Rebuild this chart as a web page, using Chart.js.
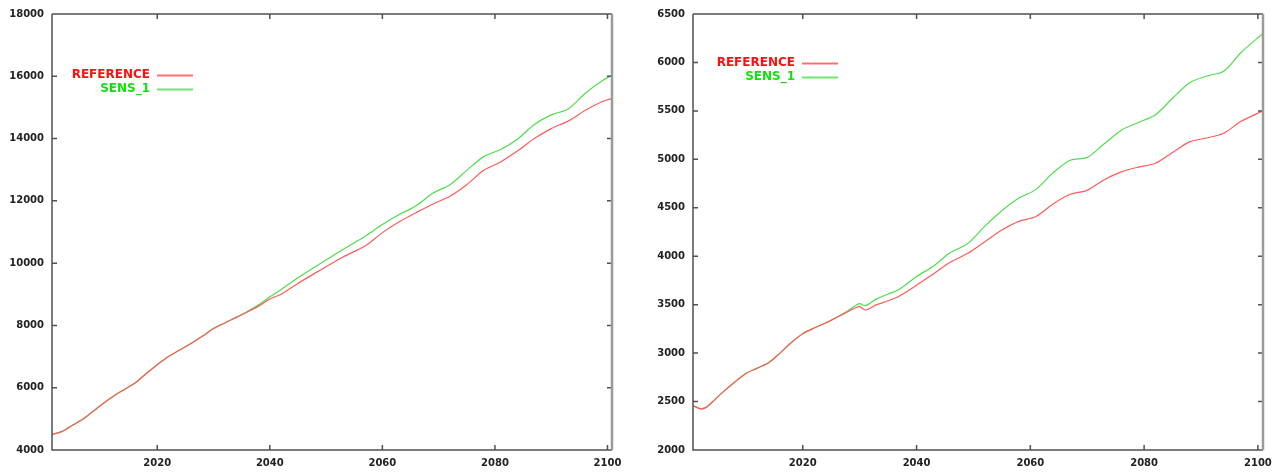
<!DOCTYPE html>
<html lang="en">
<head>
<meta charset="UTF-8">
<title>REFERENCE vs SENS_1</title>
<script src="https://cdn.jsdelivr.net/npm/chart.js"></script>
<style>
  body { margin: 0; background: #fff; }
  canvas { position: absolute; top: 0; }
</style>
</head>
<body>
<canvas id="left" width="640" height="472" style="left:0"></canvas>
<canvas id="right" width="644" height="472" style="left:640px"></canvas>
<script>
// values
const seriesNames = ['REFERENCE', 'SENS_1'];
const xTicks = [2020, 2040, 2060, 2080, 2100];

const leftYears = [2001.3, 2003, 2005, 2007, 2010, 2013, 2016, 2018, 2020, 2022, 2024, 2026, 2028, 2030, 2032, 2034, 2036, 2038,
  2040, 2042, 2045, 2049, 2053, 2057, 2060, 2063, 2066, 2069, 2072, 2075, 2078, 2081, 2084, 2087, 2090, 2093, 2096, 2099, 2100.8];
const leftRef = [4500, 4590, 4800, 5020, 5440, 5820, 6140, 6450, 6740, 7000, 7210, 7420, 7650, 7900, 8080, 8250, 8430, 8620,
  8850, 9000, 9350, 9780, 10200, 10560, 10980, 11330, 11620, 11900, 12150, 12520, 12980, 13250, 13600, 14000, 14320, 14560, 14900, 15180, 15290];
const leftSens = [4500, 4590, 4800, 5020, 5440, 5820, 6140, 6450, 6740, 7000, 7210, 7420, 7650, 7900, 8080, 8260, 8450, 8660,
  8920, 9150, 9530, 9990, 10440, 10870, 11240, 11560, 11840, 12250, 12520, 12980, 13420, 13650, 13980, 14450, 14760, 14950, 15450, 15850, 16040];
const leftTicksY = [4000, 6000, 8000, 10000, 12000, 14000, 16000, 18000];

const rightYears = [2000.7, 2002, 2003, 2004, 2006, 2008, 2010, 2012, 2014, 2016, 2018, 2020, 2022, 2024, 2026, 2028, 2029, 2030, 2031,
  2033, 2035, 2037, 2040, 2043, 2046, 2049, 2052, 2055, 2058, 2061, 2064, 2067, 2070, 2073, 2076, 2079, 2082, 2085, 2088, 2091, 2094, 2097, 2100.9];
const rightRef = [2460, 2425, 2440, 2490, 2600, 2700, 2790, 2845, 2900, 3000, 3110, 3200, 3260, 3310, 3370, 3430, 3460, 3480, 3445,
  3500, 3540, 3590, 3700, 3820, 3940, 4030, 4150, 4270, 4360, 4410, 4540, 4640, 4680, 4790, 4870, 4920, 4960, 5070, 5180, 5220, 5270, 5390, 5500];
const rightSens = [2460, 2425, 2440, 2490, 2600, 2700, 2790, 2845, 2900, 3000, 3110, 3200, 3260, 3310, 3370, 3440, 3480, 3510, 3490,
  3560, 3610, 3660, 3790, 3900, 4040, 4130, 4310, 4470, 4600, 4690, 4860, 4990, 5020, 5160, 5300, 5380, 5460, 5630, 5790, 5860, 5910, 6100, 6300];
const rightTicksY = [2000, 2500, 3000, 3500, 4000, 4500, 5000, 5500, 6000, 6500];

const lineColors = ['#ff5a5a', '#4fdc4f'];
const keyColors = ['#ff7070', '#70e870'];
const textColors = ['#ff1010', '#10e010'];

// gnuplot style box with inward ticks
const frame = {
  id: 'frame',
  afterDraw(chart) {
    const c = chart.ctx, a = chart.chartArea;
    const xs = chart.scales.x, ys = chart.scales.y;
    c.save();
    c.strokeStyle = '#505050';
    c.lineWidth = 1.5;
    c.beginPath();
    c.moveTo(a.left, a.top); c.lineTo(a.right, a.top);
    c.moveTo(a.left, a.top); c.lineTo(a.left, a.bottom); c.lineTo(a.right, a.bottom);
    xs.ticks.forEach(t => {
      const p = xs.getPixelForValue(t.value);
      c.moveTo(p, a.bottom); c.lineTo(p, a.bottom - 5);
      c.moveTo(p, a.top); c.lineTo(p, a.top + 5);
    });
    ys.ticks.forEach(t => {
      const p = ys.getPixelForValue(t.value);
      c.moveTo(a.left, p); c.lineTo(a.left + 5, p);
      c.moveTo(a.right, p); c.lineTo(a.right - 5, p);
    });
    c.stroke();
    c.strokeStyle = '#9a9a9a';
    c.lineWidth = 2.5;
    c.beginPath();
    c.moveTo(a.right, a.top); c.lineTo(a.right, a.bottom);
    c.stroke();
    c.restore();
  }
};

// legend: text then line sample, like gnuplot
const keyBox = {
  id: 'keyBox',
  afterDraw(chart, args, opts) {
    const c = chart.ctx;
    c.save();
    c.font = 'bold 12px "DejaVu Sans"';
    c.textAlign = 'right';
    c.textBaseline = 'middle';
    seriesNames.forEach((name, i) => {
      const y = opts.y + i * 14;
      c.fillStyle = textColors[i];
      c.fillText(name, opts.x, y);
      c.fillStyle = keyColors[i];
      c.fillRect(opts.x + 7, y - 0.5, 36, 2);
    });
    c.restore();
  }
};

function makeChart(id, years, ref, sens, ticksY, xMin, xMax, padRight, yWidth, key) {
  const pts = arr => years.map((x, i) => ({ x: x, y: arr[i] }));
  const tickFont = { family: '"DejaVu Sans"', size: 10, weight: 'bold' };
  return new Chart(document.getElementById(id), {
    type: 'line',
    data: {
      datasets: [ref, sens].map((arr, i) => ({
        label: seriesNames[i],
        data: pts(arr),
        borderColor: lineColors[i],
        borderWidth: 1.2,
        pointRadius: 0,
        tension: 0.3,
        fill: false
      }))
    },
    options: {
      responsive: false,
      animation: false,
      devicePixelRatio: 1,
      layout: { padding: { top: 14, right: padRight, left: 0, bottom: 0 } },
      plugins: {
        legend: { display: false },
        tooltip: { enabled: false },
        keyBox: key
      },
      scales: {
        x: {
          type: 'linear',
          min: xMin,
          max: xMax,
          afterBuildTicks: s => { s.ticks = xTicks.map(v => ({ value: v })); },
          afterFit: s => { s.height = 22; },
          grid: { display: false, drawTicks: false, tickLength: 0 },
          border: { display: false },
          ticks: { color: '#222', font: tickFont, padding: 7, maxRotation: 0, callback: v => String(v) }
        },
        y: {
          min: ticksY[0],
          max: ticksY[ticksY.length - 1],
          afterBuildTicks: s => { s.ticks = ticksY.map(v => ({ value: v })); },
          afterFit: s => { s.width = yWidth; },
          grid: { display: false, drawTicks: false, tickLength: 0 },
          border: { display: false },
          ticks: { color: '#222', font: tickFont, padding: 8, callback: v => String(v) }
        }
      }
    },
    plugins: [frame, keyBox]
  });
}

makeChart('left', leftYears, leftRef, leftSens, leftTicksY, 2001.3, 2100.8, 28, 52, { x: 150, y: 75 });
makeChart('right', rightYears, rightRef, rightSens, rightTicksY, 2000.7, 2100.9, 21, 53, { x: 155, y: 63 });
</script>
</body>
</html>
